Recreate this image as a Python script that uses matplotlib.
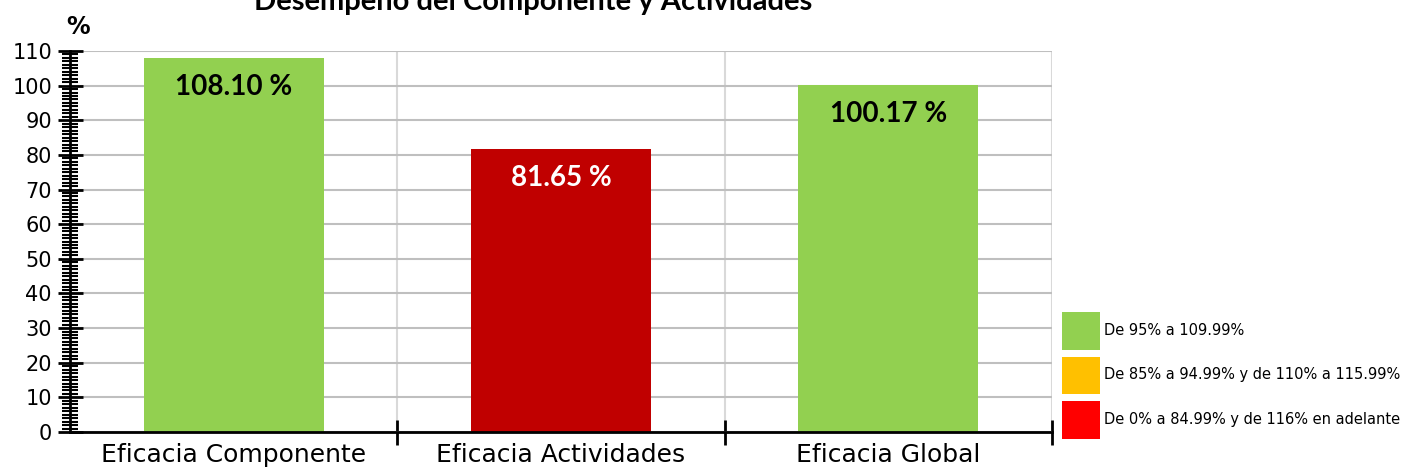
import numpy as np
import matplotlib
matplotlib.use('Agg')
import matplotlib.pyplot as plt
from matplotlib.patches import Patch
from matplotlib.ticker import MultipleLocator

categories = ['Eficacia Componente', 'Eficacia Actividades', 'Eficacia Global']
values = [108.10, 81.65, 100.17]
bar_colors = ['#92D050', '#C00000', '#92D050']
label_colors = ['black', 'white', 'black']
legend_labels = ['De 95% a 109.99%', 'De 85% a 94.99% y de 110% a 115.99%',
                 'De 0% a 84.99% y de 116% en adelante']
legend_colors = ['#92D050', '#FFC000', '#FF0000']

fig = plt.figure(figsize=(14.04, 4.70), dpi=100)
ax = fig.add_axes([70/1404, 1-432/470, (1052-70)/1404, (432-51)/470])

x = np.arange(len(categories))
ax.bar(x, values, width=0.55, color=bar_colors, zorder=3)
for xi, v, c in zip(x, values, label_colors):
    ax.annotate('%.2f %%' % v, (xi, v), xytext=(0, -21), textcoords='offset points',
                ha='center', va='center', fontsize=20, fontweight='bold', family='Lato',
                color=c, zorder=4)

ax.set_xlim(-0.5, 2.5)
ax.set_ylim(0, 110)
ax.yaxis.set_major_locator(MultipleLocator(10))
ax.yaxis.set_minor_locator(MultipleLocator(1))
ax.set_yticks(np.arange(0, 111, 10))
ax.tick_params(axis='y', which='major', direction='inout', length=18, width=2, labelsize=15, pad=4)
ax.tick_params(axis='y', which='minor', direction='inout', length=11, width=1.5)

ax.set_xticks([0.5, 1.5, 2.5])
ax.set_xticklabels([])
ax.set_xticks(x, minor=True)
ax.set_xticklabels(categories, minor=True, fontsize=18)
ax.tick_params(axis='x', which='major', direction='inout', length=18, width=2)
ax.tick_params(axis='x', which='minor', length=0, pad=8)

ax.grid(axis='y', which='major', color='#BFBFBF', lw=1.5, zorder=0)
for xb in [0.5, 1.5, 2.5]:
    ax.axvline(xb, color='#D9D9D9', lw=1.5, zorder=0)

for s in ['top', 'right']:
    ax.spines[s].set_visible(False)
ax.spines['left'].set_linewidth(2)
ax.spines['bottom'].set_linewidth(2)
ax.spines['left'].set_zorder(5)
ax.spines['bottom'].set_zorder(5)

fig.text(533/1404, 1-2/470, 'Desempeño del Componente y Actividades', ha='center', va='center',
         fontsize=21, fontweight='bold', family='Lato')
fig.text(78/1404, 1-27/470, '%', ha='center', va='center', fontsize=17, fontweight='bold')

handles = [Patch(facecolor=c, edgecolor='none') for c in legend_colors]
fig.legend(handles, legend_labels, loc='upper left', bbox_to_anchor=(1062/1404, 1-312/470),
           frameon=False, fontsize=10.5, handlelength=2.6, handleheight=3.6,
           labelspacing=0.47, handletextpad=0.3, borderaxespad=0, borderpad=0)

fig.savefig('out.png', dpi=100)
